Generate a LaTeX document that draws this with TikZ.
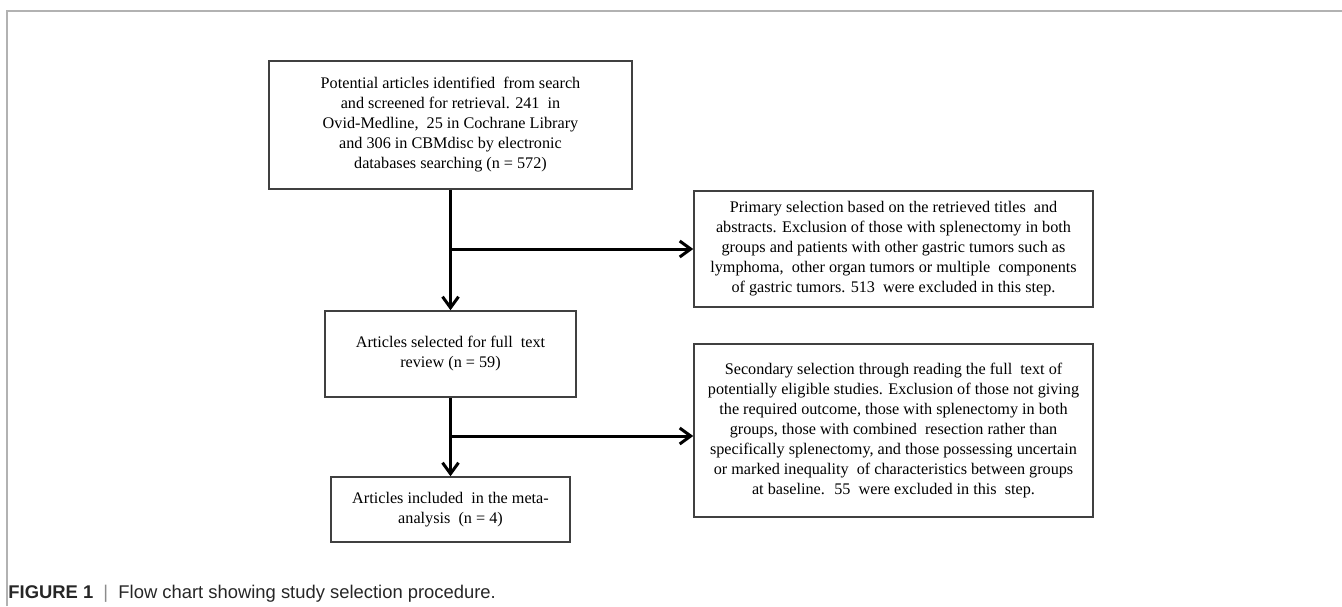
\documentclass[tikz,border=0pt]{standalone}
\usepackage{fontspec}
\setmainfont{Liberation Serif}
\newfontfamily\capfont{Liberation Sans}
\usetikzlibrary{arrows.meta}

\begin{document}
\begin{tikzpicture}[x=0.5pt, y=-0.5pt, >={Straight Barb[length=5.5pt, width=8pt]},
	box/.style={draw=black!75, line width=0.75pt, align=center, inner sep=0pt, font=\fontsize{8.1}{10}\selectfont},
	link/.style={->, line width=1.5pt}]
	
	\useasboundingbox (0,0) rectangle (1342,606);
	\draw [black!30, line width=0.75pt] (7,606) -- (7,11) -- (1342,11);
	
	\node [box, minimum width=181.5pt, minimum height=64pt] (step-1) at (450.5,125) {Potential articles identified~ from search\\and screened for retrieval. 241~ in\\Ovid-Medline,~ 25 in Cochrane Library\\and 306 in CBMdisc by electronic\\databases searching (n = 572)};
	
	\node [box, minimum width=125.5pt, minimum height=43pt] (step-2) at (450.5,354) {Articles selected for full~ text\\review (n = 59)};
	
	\node [box, minimum width=119.5pt, minimum height=32.5pt] (step-3) at (450.5,509.5) {Articles included~ in the meta-\\analysis~ (n = 4)};
	
	\node [box, minimum width=199.5pt, minimum height=58pt] (excl-1) at (893.5,249) {Primary selection based on the retrieved titles~ and\\abstracts. Exclusion of those with splenectomy in both\\groups and patients with other gastric tumors such as\\lymphoma,~ other organ tumors or multiple~ components\\of gastric tumors. 513~ were excluded in this step.};
	
	\node [box, minimum width=199.5pt, minimum height=86.5pt] (excl-2) at (893.5,430.5) {Secondary selection through reading the full~ text of\\potentially eligible studies. Exclusion of those not giving\\the required outcome, those with splenectomy in both\\groups, those with combined~ resection rather than\\specifically splenectomy, and those possessing uncertain\\or marked inequality~ of characteristics between groups\\at baseline.~ 55~ were excluded in this~ step.};
	
	\coordinate (split-1) at (450.5,249);
	\coordinate (split-2) at (450.5,436);
	
	\foreach \a/\b in {1/2, 2/3}
	\draw [link] (step-\a) -- (step-\b);
	
	\foreach \s in {1,2}
	\draw [link] (split-\s) -- (split-\s -| excl-\s.west);
	
	\node [anchor=base west, inner sep=0pt, text=black!85, font=\capfont\fontsize{9.2}{11}\selectfont] (caption) at (8,598) {\textbf{FIGURE 1}~ \textcolor{black!45}{|}~ Flow chart showing study selection procedure.};
\end{tikzpicture}
\end{document}
